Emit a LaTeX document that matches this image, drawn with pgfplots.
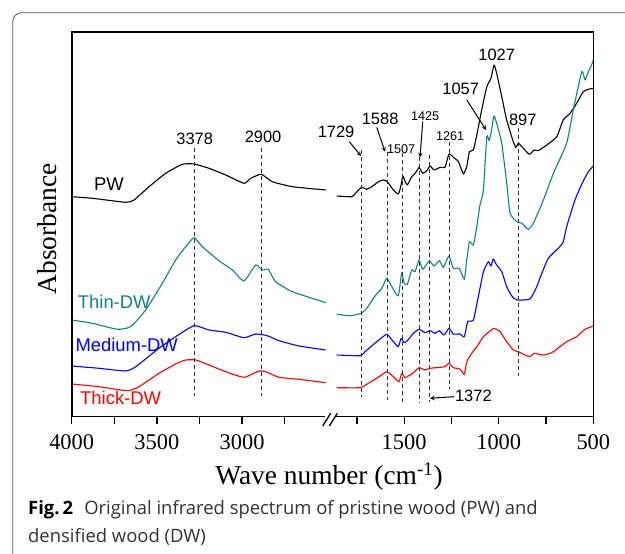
\documentclass[border=0pt]{standalone}
\usepackage{fontspec}
\setmainfont{Liberation Serif}
\newfontfamily\arial{Liberation Sans}
\newfontfamily\capfont{Open Sans}
\usepackage{pgfplots}
\pgfplotsset{compat=1.18}

\definecolor{thincol}{RGB}{20,128,128}
\definecolor{medcol}{RGB}{0,0,255}
\definecolor{thickcol}{RGB}{255,0,0}

\pgfplotsset{
  spec/.style={
    scale only axis, height=384.4bp,
    x dir=reverse, ymin=3.3, ymax=387.7,
    axis line style={draw=none}, ytick=\empty,
    tick align=outside, xtick pos=bottom,
    major tick length=7bp, minor tick length=7bp,
    every tick/.style={black, line width=1.3bp},
    xticklabel style={font=\fontsize{22.5}{24}\selectfont, yshift=-7bp},
    scaled x ticks=false,
    /pgf/number format/1000 sep={},
    /pgf/number format/assume math mode=true,
    clip=false,
  },
  every axis plot/.append style={line width=1.1bp, line join=round, smooth, tension=0.3},
}
\tikzset{
  peak/.style={font=\arial\fontsize{16.5}{17}\selectfont, inner sep=0pt},
  speak/.style={font=\arial\fontsize{12.7}{13}\selectfont, inner sep=0pt},
  vdash/.style={black!80, line width=0.9bp, dash pattern=on 4bp off 3bp},
  arr/.style={-stealth, line width=1bp},
}

\begin{document}
\begin{tikzpicture}[x=1bp,y=1bp]
\useasboundingbox (0,0) rectangle (625,554);

% left part, 4000-2500 (box 71.7..331.7 x 137.3..521.7)
\begin{axis}[spec, at={(201.7bp,329.5bp)}, anchor=center, width=260bp,
  xmin=2474, xmax=4000, xtick={4000,3500,3000}, minor xtick={3750,3250,2750}]
\addplot[black] coordinates {(4000,223.3) (3879,221.7) (3683,217.7) (3634,220) (3546,233.3) (3448,246.7) (3351,255.7) (3282,256) (3194,251.7) (3096,245) (2989,236.7) (2949,241.7) (2887,245.7) (2823,238.3) (2705,233.3) (2509,230)};
\addplot[thincol] coordinates {(4000,100) (3879,96.7) (3732,90.7) (3654,93.3) (3566,110) (3468,136.7) (3390,160) (3331,173.3) (3282,182.3) (3233,173.3) (3136,159.3) (3057,150) (2989,139) (2920,155) (2881,150) (2846,150.7) (2803,138.3) (2705,128.3) (2509,117.3)};
\addplot[medcol] coordinates {(4000,54) (3840,51.7) (3683,49) (3624,53.3) (3488,71.7) (3390,83.3) (3282,94.3) (3194,90) (3096,87.7) (2989,82.3) (2920,86) (2852,84.3) (2783,79.3) (2666,74) (2509,70)};
\addplot[thickcol] coordinates {(4000,36) (3840,33.3) (3674,29.3) (3605,33.3) (3488,46.7) (3390,56) (3331,60) (3272,60) (3194,55) (3096,48.3) (2989,42.7) (2901,49) (2861,48.3) (2783,42.7) (2666,40.7) (2509,37.3)};
\draw[vdash] (axis cs:3278,271.7) -- (axis cs:3278,24);
\draw[vdash] (axis cs:2887,271.7) -- (axis cs:2887,24);
\node[peak] at (axis cs:3278,281) {3378};
\node[peak] at (axis cs:2877,283) {2900};
\end{axis}

% right part, 1880-500 (box 331.7..593.3)
\begin{axis}[spec, at={(462.5bp,329.5bp)}, anchor=center, width=261.6bp,
  xmin=500, xmax=1883, xtick={1500,1000,500}, minor xtick={1750,1250,750}]
\addplot[black] coordinates {(1856,224) (1777,223.3) (1750,228.3) (1724,232.7) (1698,230.7) (1671,233.3) (1636,238.3) (1610,240) (1589,238.3) (1557,230) (1531,226) (1518,233.3) (1507,244) (1495,238.3) (1483,235) (1460,243.3) (1442,246.7) (1430,250) (1421,252.7) (1402,246.7) (1380,249.3) (1363,254) (1342,250) (1310,252.7) (1284,252.7) (1263,266) (1240,262.7) (1213,258.3) (1187,246) (1169,253.3) (1155,268.3) (1134,270) (1116,285) (1090,310) (1063,333.3) (1041,341.7) (1025,355) (1011,346.7) (984,323.3) (958,300) (926,280) (910,272.7) (896,276.7) (870,271.7) (838,265.7) (813,270) (791,269.3) (746,275) (693,283.3) (659,300) (623,306.7) (588,316.7) (553,328.3) (526,330.7) (500,331.7)};
\addplot[thincol] coordinates {(1856,105.7) (1786,104.3) (1728,106.7) (1698,111.7) (1654,124) (1618,131.7) (1592,141.7) (1565,133.3) (1531,124) (1513,147.3) (1500,136.7) (1483,135.7) (1460,150) (1442,148.3) (1421,160) (1402,150.7) (1367,159) (1342,154) (1314,159.3) (1293,152.7) (1263,164) (1240,151.7) (1208,151.7) (1182,140.7) (1169,160) (1155,178.3) (1134,175) (1116,193.3) (1099,215) (1081,230) (1063,283.3) (1051,279.3) (1041,286.7) (1025,304) (1011,296.7) (984,276.7) (958,237) (940,206.7) (905,198.3) (878,196.7) (844,190.7) (817,196.7) (764,220) (711,246.7) (641,276.7) (606,310) (561,348.3) (544,340) (526,348.3) (509,355) (500,360)};
\addplot[medcol] coordinates {(1856,65) (1733,64.3) (1707,68.3) (1645,78.3) (1592,85.7) (1557,78.3) (1531,73.3) (1516,81.7) (1500,77.3) (1483,79.3) (1451,86.7) (1421,90.7) (1390,87.3) (1363,89.3) (1337,86.7) (1314,89.3) (1289,85) (1263,91.7) (1240,86) (1205,86) (1182,83.3) (1164,98.3) (1134,100) (1108,123.3) (1081,148.3) (1055,158.3) (1041,154) (1029,161) (1011,155) (984,148.3) (958,133.3) (931,124) (905,120) (835,121) (799,133.3) (782,142) (738,161.7) (685,171.7) (659,178) (641,193.3) (597,220) (553,239) (526,248.3) (500,254)};
\addplot[thickcol] coordinates {(1856,32.3) (1733,32.3) (1698,35.7) (1645,41.7) (1592,48.3) (1557,43.3) (1527,38.3) (1513,46.7) (1495,42.3) (1478,44) (1451,47.3) (1421,52.3) (1390,50) (1363,51.7) (1310,52.7) (1284,53.3) (1263,56.7) (1240,52.3) (1205,51) (1182,45.7) (1169,58.3) (1143,66.7) (1116,73.3) (1081,83.3) (1050,88.3) (1025,91.7) (993,88.3) (958,78.3) (923,70) (896,68.3) (861,65) (835,63.3) (813,66.7) (764,65) (720,67.3) (676,73.3) (641,78.3) (588,83.3) (544,90.7) (500,94)};
% marker lines
\draw[vdash] (axis cs:1728,270) -- (axis cs:1728,23.3);
\draw[vdash] (axis cs:1590,268.3) -- (axis cs:1590,20);
\draw[vdash] (axis cs:1507,266.7) -- (axis cs:1507,16.7);
\draw[vdash] (axis cs:1421,263.3) -- (axis cs:1421,17.7);
\draw[vdash] (axis cs:1365,265) -- (axis cs:1365,17.7);
\draw[vdash] (axis cs:1263,278.3) -- (axis cs:1263,30.7);
\draw[vdash] (axis cs:896,291.7) -- (axis cs:896,44);
\draw[arr] (axis cs:1790,278.3) -- (axis cs:1728,264);
\draw[arr] (axis cs:1645,292.7) -- (axis cs:1601,268.3);
\draw[arr] (axis cs:1402,298.3) -- (axis cs:1416,262.7);
\draw[arr] (axis cs:1169,320) -- (axis cs:1067,290);
\draw[arr] (axis cs:1236,23.3) -- (axis cs:1363,21.7);
\node[peak] at (axis cs:1860,288) {1729};
\node[peak] at (axis cs:1627,301) {1588};
\node[speak] at (axis cs:1516,270.7) {1507};
\node[speak] at (axis cs:1389,304.3) {1425};
\node[speak] at (axis cs:1257,284.3) {1261};
\node[peak] at (axis cs:1201,331) {1057};
\node[peak] at (axis cs:1011,365) {1027};
\node[peak] at (axis cs:873,300) {897};
\node[peak] at (axis cs:1134,24) {1372};
\end{axis}

% frame and axis break
\draw[line width=1.6bp] (71.7,137.3) rectangle (593.3,521.7);
\fill[white] (325,133) rectangle (336,141.5);
\draw[line width=1.3bp] (322.7,128) -- (330.7,140.7);
\draw[line width=1.3bp] (329.3,128) -- (337.3,140.7);

% axis titles and series names
\node[rotate=90, font=\fontsize{27.5}{28}\selectfont] at (46.7,325) {Absorbance};
\node[font=\fontsize{27.5}{28}\selectfont] at (329,77) {Wave number (cm\textsuperscript{-1})};
\node[anchor=west, inner sep=0pt, font=\arial\fontsize{18.5}{19}\selectfont] at (94,370) {PW};
\node[anchor=west, inner sep=0pt, font=\arial\fontsize{18.5}{19}\selectfont, text=thincol] at (77.7,252.3) {Thin-DW};
\node[anchor=west, inner sep=0pt, font=\arial\fontsize{18.5}{19}\selectfont, text=medcol] at (75.3,209) {Medium-DW};
\node[anchor=west, inner sep=0pt, font=\arial\fontsize{18.5}{19}\selectfont, text=thickcol] at (80,155.7) {Thick-DW};

% caption and page frame
\node[anchor=west, inner sep=0pt, font=\capfont\fontsize{18.5}{19}\selectfont, text=black!80] at (28,44.7)
  {\textbf{\color{black}Fig.\,2}\hspace{0.6em}Original infrared spectrum of pristine wood (PW) and};
\node[anchor=west, inner sep=0pt, font=\capfont\fontsize{18.5}{19}\selectfont, text=black!80] at (28,17.3)
  {densified wood (DW)};
\draw[black!65, line width=0.8bp] (625,541.3) -- (21.7,541.3) arc[start angle=90, end angle=180, radius=9] -- (12.7,0);
\end{tikzpicture}
\end{document}
